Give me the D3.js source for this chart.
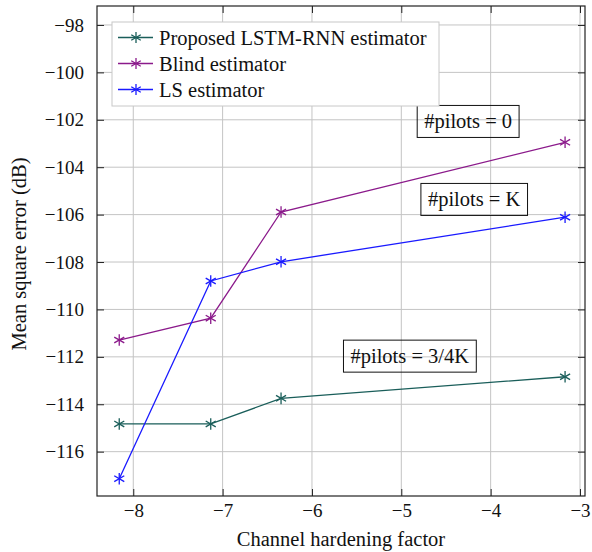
<!DOCTYPE html>
<html>
<head>
<meta charset="utf-8">
<script src="https://cdn.jsdelivr.net/npm/d3@7"></script>
<style>
  body { margin: 0; background: #fff; }
</style>
</head>
<body>
<svg id="chart" width="592" height="552"></svg>
<script>
// data
const hardening = [-8.157, -7.133, -6.346, -3.167];
const lstmMse = [-114.83, -114.83, -113.75, -112.84];
const blindMse = [-111.29, -110.37, -105.89, -102.95];
const lsMse = [-117.14, -108.80, -107.99, -106.11];
const seriesNames = ["Proposed LSTM-RNN estimator", "Blind estimator", "LS estimator"];
const xTicks = [-8, -7, -6, -5, -4, -3];
const yTicks = [-116, -114, -112, -110, -108, -106, -104, -102, -100, -98];
const notes = [
  { text: "#pilots = 0", x: -4.252, y: -102.07 },
  { text: "#pilots = K", x: -4.185, y: -105.36 },
  { text: "#pilots = 3/4K", x: -4.905, y: -111.97 }
];

const FONT = "'Liberation Serif', 'Times New Roman', serif";
const colors = ["#1a5e5a", "#8b1a8b", "#1a1aff"];
const series = [lstmMse, blindMse, lsMse].map((vals, i) => ({
  name: seriesNames[i],
  color: colors[i],
  points: vals.map((v, j) => [hardening[j], v])
}));

const svg = d3.select("#chart");
const pLeft = 97, pRight = 585, pTop = 6, pBottom = 496;

const x = d3.scaleLinear().domain([-8.406, -2.944]).range([pLeft, pRight]);
const y = d3.scaleLinear().domain([-117.87, -97.2]).range([pBottom, pTop]);

// grid
const grid = svg.append("g").attr("stroke", "#c4c4c4").attr("stroke-width", 1);
grid.selectAll(".gx").data(xTicks).join("line")
  .attr("x1", d => x(d)).attr("x2", d => x(d))
  .attr("y1", pTop).attr("y2", pBottom);
grid.selectAll(".gy").data(yTicks).join("line")
  .attr("x1", pLeft).attr("x2", pRight)
  .attr("y1", d => y(d)).attr("y2", d => y(d));

// axes (ticks inward, mirrored on top/right)
const fmt = d => d < 0 ? "\u2212" + Math.abs(d) : String(d);
const styleAxis = g => {
  g.select(".domain").remove();
  g.selectAll(".tick line").attr("stroke", "#222");
  g.selectAll(".tick text").attr("fill", "#111")
    .style("font-family", FONT).style("font-size", "19px");
};
svg.append("g").attr("transform", `translate(0,${pBottom})`)
  .call(d3.axisBottom(x).tickValues(xTicks).tickFormat(fmt).tickSizeInner(-7).tickPadding(8))
  .call(styleAxis);
svg.append("g").attr("transform", `translate(0,${pTop})`)
  .call(d3.axisTop(x).tickValues(xTicks).tickFormat("").tickSizeInner(-7))
  .call(styleAxis);
svg.append("g").attr("transform", `translate(${pLeft},0)`)
  .call(d3.axisLeft(y).tickValues(yTicks).tickFormat(fmt).tickSizeInner(-7).tickPadding(13))
  .call(styleAxis);
svg.append("g").attr("transform", `translate(${pRight},0)`)
  .call(d3.axisRight(y).tickValues(yTicks).tickFormat("").tickSizeInner(-7))
  .call(styleAxis);

svg.append("rect")
  .attr("x", pLeft).attr("y", pTop)
  .attr("width", pRight - pLeft).attr("height", pBottom - pTop)
  .attr("fill", "none").attr("stroke", "#222").attr("stroke-width", 1.2);

// asterisk marker
const asterisk = (g, r) => {
  [90, 30, -30].forEach(a => {
    const rad = a * Math.PI / 180;
    g.append("line")
      .attr("x1", -r * Math.cos(rad)).attr("y1", -r * Math.sin(rad))
      .attr("x2", r * Math.cos(rad)).attr("y2", r * Math.sin(rad));
  });
};

const line = d3.line().x(d => x(d[0])).y(d => y(d[1]));

series.forEach(s => {
  svg.append("path")
    .datum(s.points)
    .attr("d", line)
    .attr("fill", "none")
    .attr("stroke", s.color)
    .attr("stroke-width", 1.3);
  s.points.forEach(p => {
    const m = svg.append("g")
      .attr("transform", `translate(${x(p[0])},${y(p[1])})`)
      .attr("stroke", s.color).attr("stroke-width", 1.3);
    asterisk(m, 5.8);
  });
});

// annotation boxes
notes.forEach(n => {
  const g = svg.append("g");
  const t = g.append("text")
    .attr("x", x(n.x)).attr("y", y(n.y))
    .attr("text-anchor", "middle").attr("dominant-baseline", "central")
    .style("font-family", FONT).style("font-size", "20.5px").attr("fill", "#111")
    .text(n.text);
  const bb = t.node().getBBox();
  g.insert("rect", "text")
    .attr("x", bb.x - 7).attr("y", y(n.y) - 16)
    .attr("width", bb.width + 14).attr("height", 32)
    .attr("fill", "none")
    .attr("stroke", "#111").attr("stroke-width", 1);
});

// legend
const lg = svg.append("g").attr("transform", "translate(112,22)");
lg.append("rect")
  .attr("width", 327).attr("height", 84)
  .attr("fill", "#fff").attr("stroke", "#c8c8c8").attr("stroke-width", 1);
series.forEach((s, i) => {
  const row = lg.append("g").attr("transform", `translate(0,${15.5 + i * 26})`);
  row.append("line").attr("x1", 6).attr("x2", 41)
    .attr("stroke", s.color).attr("stroke-width", 1.3);
  const m = row.append("g").attr("transform", "translate(24,0)")
    .attr("stroke", s.color).attr("stroke-width", 1.3);
  asterisk(m, 5.5);
  row.append("text").attr("x", 47).attr("dominant-baseline", "central")
    .style("font-family", FONT).style("font-size", "20.5px")
    .attr("fill", "#111").text(s.name);
});

// axis titles
svg.append("text")
  .attr("x", (pLeft + pRight) / 2).attr("y", 546)
  .attr("text-anchor", "middle")
  .style("font-family", FONT).style("font-size", "20.5px").attr("fill", "#111")
  .text("Channel hardening factor");
svg.append("text")
  .attr("transform", `translate(26,254) rotate(-90)`)
  .attr("text-anchor", "middle")
  .style("font-family", FONT).style("font-size", "20.5px").attr("fill", "#111")
  .text("Mean square error (dB)");
</script>
</body>
</html>
